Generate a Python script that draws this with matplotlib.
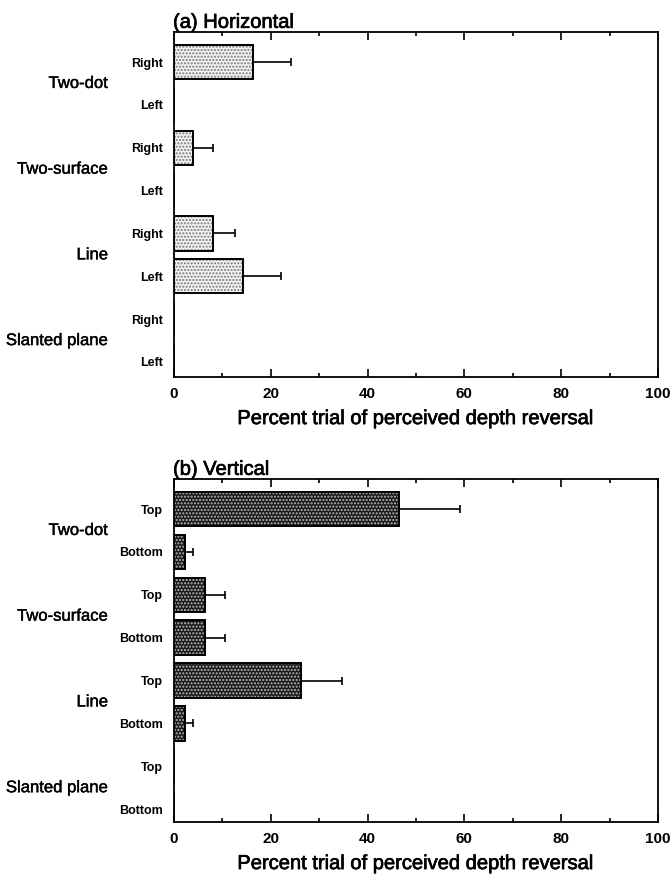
import matplotlib
matplotlib.use("Agg")
import matplotlib.pyplot as plt
import matplotlib.patheffects as pe
import numpy as np
from matplotlib.ticker import MultipleLocator

plt.rcParams['font.family'] = ['Liberation Sans', 'DejaVu Sans']
plt.rcParams['hatch.linewidth'] = 1.0

groups = ["Two-dot", "Two-surface", "Line", "Slanted plane"]
h_sub = ["Right", "Left"] * 4
v_sub = ["Top", "Bottom"] * 4

h_vals = [16.3, 0, 4.0, 0, 8.1, 14.3, 0, 0]
h_err = [7.8, 0, 4.0, 0, 4.5, 7.8, 0, 0]

v_vals = [46.4, 2.3, 6.4, 6.4, 26.3, 2.3, 0, 0]
v_err = [12.6, 1.7, 4.1, 4.1, 8.5, 1.7, 0, 0]

xlabel = "Percent trial of perceived depth reversal"

fig = plt.figure(figsize=(6.72, 8.81), dpi=100)
W, H = 672, 881

def make_ax(left, top, right, bottom):
    return fig.add_axes([left / W, 1 - bottom / H, (right - left) / W, (bottom - top) / H])

ax_a = make_ax(174, 32, 658, 377)
ax_b = make_ax(174, 479, 658, 822)

bold = [pe.withStroke(linewidth=0.5, foreground='black')]

def draw(ax, vals, errs, sub, title, face, hatchc, ylim):
    y = np.arange(len(vals))
    ax.barh(y, vals, height=0.8, color=face, edgecolor=hatchc, hatch='.....', linewidth=0)
    ax.barh(y, vals, height=0.8, fill=False, edgecolor='black', linewidth=1.4)
    vals = np.array(vals); errs = np.array(errs)
    m = vals > 0
    ax.errorbar(vals[m], y[m], xerr=[np.zeros(m.sum()), errs[m]], fmt='none',
                ecolor='black', elinewidth=1.2, capsize=3, capthick=1.2)
    ax.set_xlim(0, 100)
    ax.set_ylim(*ylim)
    ax.set_yticks(y)
    ax.set_yticklabels(sub, fontsize=9, fontweight='bold')
    ax.tick_params(axis='y', length=0, pad=8)
    ax.xaxis.set_major_locator(MultipleLocator(20))
    ax.xaxis.set_minor_locator(MultipleLocator(10))
    ax.tick_params(axis='x', which='both', direction='in', top=True, bottom=True,
                   labelsize=11, width=1.2, pad=7)
    ax.tick_params(axis='x', which='major', length=6)
    ax.tick_params(axis='x', which='minor', length=3)
    for lbl in ax.get_xticklabels():
        lbl.set_fontweight('bold')
    for s in ax.spines.values():
        s.set_linewidth(1.3)
    xl = ax.set_xlabel(xlabel, fontsize=14.5, labelpad=6)
    xl.set_path_effects(bold)
    t = ax.set_title(title, loc='left', fontsize=14.5, pad=3, x=-0.002)
    t.set_path_effects(bold)
    for i, g in enumerate(groups):
        ax.annotate(g, xy=(0, 2 * i + 0.5), xycoords=('axes fraction', 'data'),
                    xytext=(-47.5, 0), textcoords='offset points',
                    ha='right', va='center', fontsize=12,
                    path_effects=[pe.withStroke(linewidth=0.3, foreground='black')])

draw(ax_a, h_vals, h_err, h_sub, "(a) Horizontal", '#f2f2f2', '#777777', (7.35, -0.70))
draw(ax_b, v_vals, v_err, v_sub, "(b) Vertical", '#1a1a1a', '#bbbbbb', (7.30, -0.70))

fig.savefig("out.png", dpi=100)
